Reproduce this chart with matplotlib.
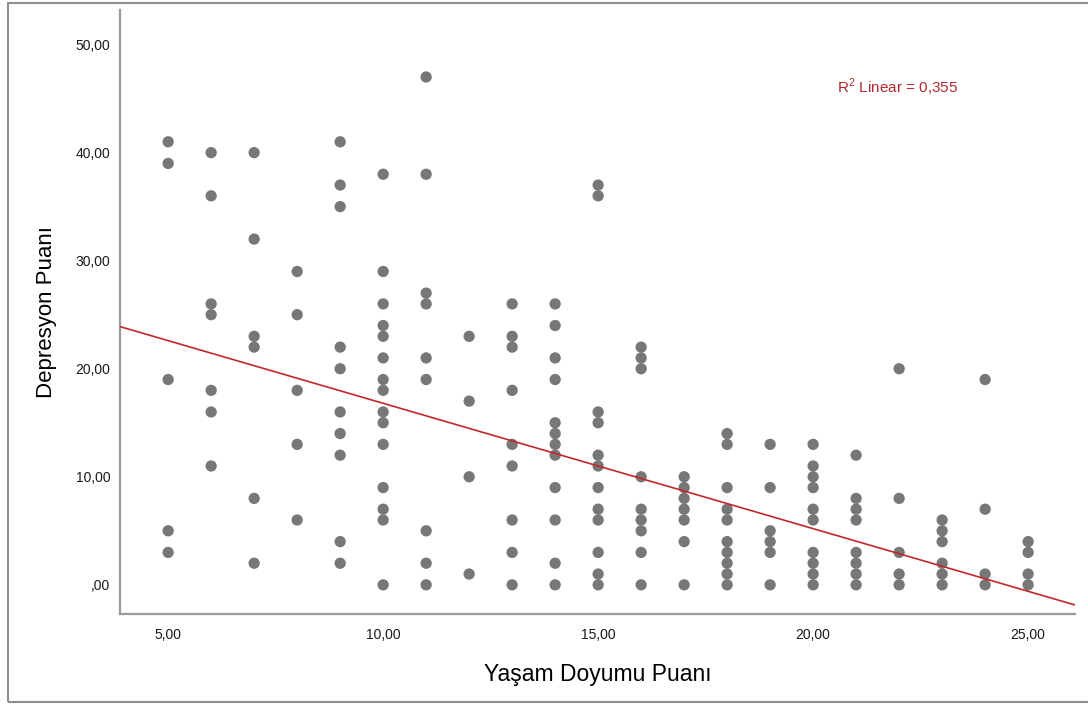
import numpy as np
import matplotlib
matplotlib.use("Agg")
import matplotlib.pyplot as plt
from matplotlib.patches import Rectangle
from matplotlib.ticker import FuncFormatter

plt.rcParams['font.family'] = ['Liberation Sans', 'DejaVu Sans']
plt.rcParams['mathtext.fontset'] = 'custom'
plt.rcParams['mathtext.rm'] = 'Liberation Sans'

yasam_values = [5, 6, 7, 8, 9, 10, 11, 12, 13, 14, 15,
                16, 17, 18, 19, 20, 21, 22, 23, 24, 25]
depresyon_by_x = [
    [41, 39, 19, 5, 3],
    [40, 36, 26, 25, 18, 16, 11],
    [40, 32, 23, 22, 8, 2],
    [29, 25, 18, 13, 6],
    [41, 37, 35, 22, 20, 16, 14, 12, 4, 2],
    [38, 29, 26, 24, 23, 21, 19, 18, 16, 15, 13, 9, 7, 6, 0],
    [47, 38, 27, 26, 21, 19, 5, 2, 0],
    [23, 17, 10, 1],
    [26, 23, 22, 18, 13, 11, 6, 3, 0],
    [26, 24, 21, 19, 15, 14, 13, 12, 9, 6, 2, 0],
    [37, 36, 16, 15, 12, 11, 9, 7, 6, 3, 1, 0],
    [22, 21, 20, 10, 7, 6, 5, 3, 0],
    [10, 9, 8, 7, 6, 4, 0],
    [14, 13, 9, 7, 6, 4, 3, 2, 1, 0],
    [13, 9, 5, 4, 3, 0],
    [13, 11, 10, 9, 7, 6, 3, 2, 1, 0],
    [12, 8, 7, 6, 3, 2, 1, 0],
    [20, 8, 3, 1, 0],
    [6, 5, 4, 2, 1, 0],
    [19, 7, 1, 0],
    [4, 3, 1, 0],
]
# linear fit as shown on the chart (overlapping points hide some cases,
# so the line is read off the picture rather than refitted)
r2_linear = 0.355
fit_intercept = 28.4
fit_slope = -1.16

x_ticks = [5, 10, 15, 20, 25]
y_ticks = [0, 10, 20, 30, 40, 50]

xs = []
ys = []
for xv, col in zip(yasam_values, depresyon_by_x):
    for yv in col:
        xs.append(xv)
        ys.append(yv)


def spss_fmt(v, pos):
    s = "{:.2f}".format(v).replace(".", ",")
    if s.startswith("0,"):
        s = s[1:]
    return s


fig = plt.figure(figsize=(10.88, 7.04), dpi=100)
ax = fig.add_axes([120/1088, 1 - 614/704, (1075 - 120)/1088, (614 - 10)/704])

ax.scatter(xs, ys, s=66, color='#777777', edgecolors='none', zorder=3)

xlim = (3.88, 26.09)
line_x = np.array(xlim)
ax.plot(line_x, fit_intercept + fit_slope*line_x, color='#c0282d', linewidth=1.2, zorder=4)

ax.set_xlim(xlim)
ax.set_ylim(-2.7, 53.2)
ax.set_xticks(x_ticks)
ax.set_yticks(y_ticks)
ax.xaxis.set_major_formatter(FuncFormatter(spss_fmt))
ax.yaxis.set_major_formatter(FuncFormatter(spss_fmt))
ax.tick_params(length=0, labelsize=10, colors='#1a1a1a', pad=7)
ax.tick_params(axis='x', pad=10)

for side in ['top', 'right']:
    ax.spines[side].set_visible(False)
for side in ['left', 'bottom']:
    ax.spines[side].set_color('#9a9a9a')
    ax.spines[side].set_linewidth(1.6)

ax.set_xlabel("Yaşam Doyumu Puanı", fontsize=16.5, color='#000000', labelpad=15)
ax.set_ylabel("Depresyon Puanı", fontsize=16, color='#000000', labelpad=13)

ax.text(0.751, 0.863, r"R$^{\mathregular{2}}$ Linear = " + "{:.3f}".format(r2_linear).replace(".", ","),
        transform=ax.transAxes, color='#b0282d', fontsize=11)

# outer frame of the chart window
fig.add_artist(Rectangle((8/1088, 2/704), 1.2, 699/704, transform=fig.transFigure,
                         fill=False, edgecolor='#8f8f8f', linewidth=1.5, clip_on=False))

fig.savefig("out.png", dpi=100)
